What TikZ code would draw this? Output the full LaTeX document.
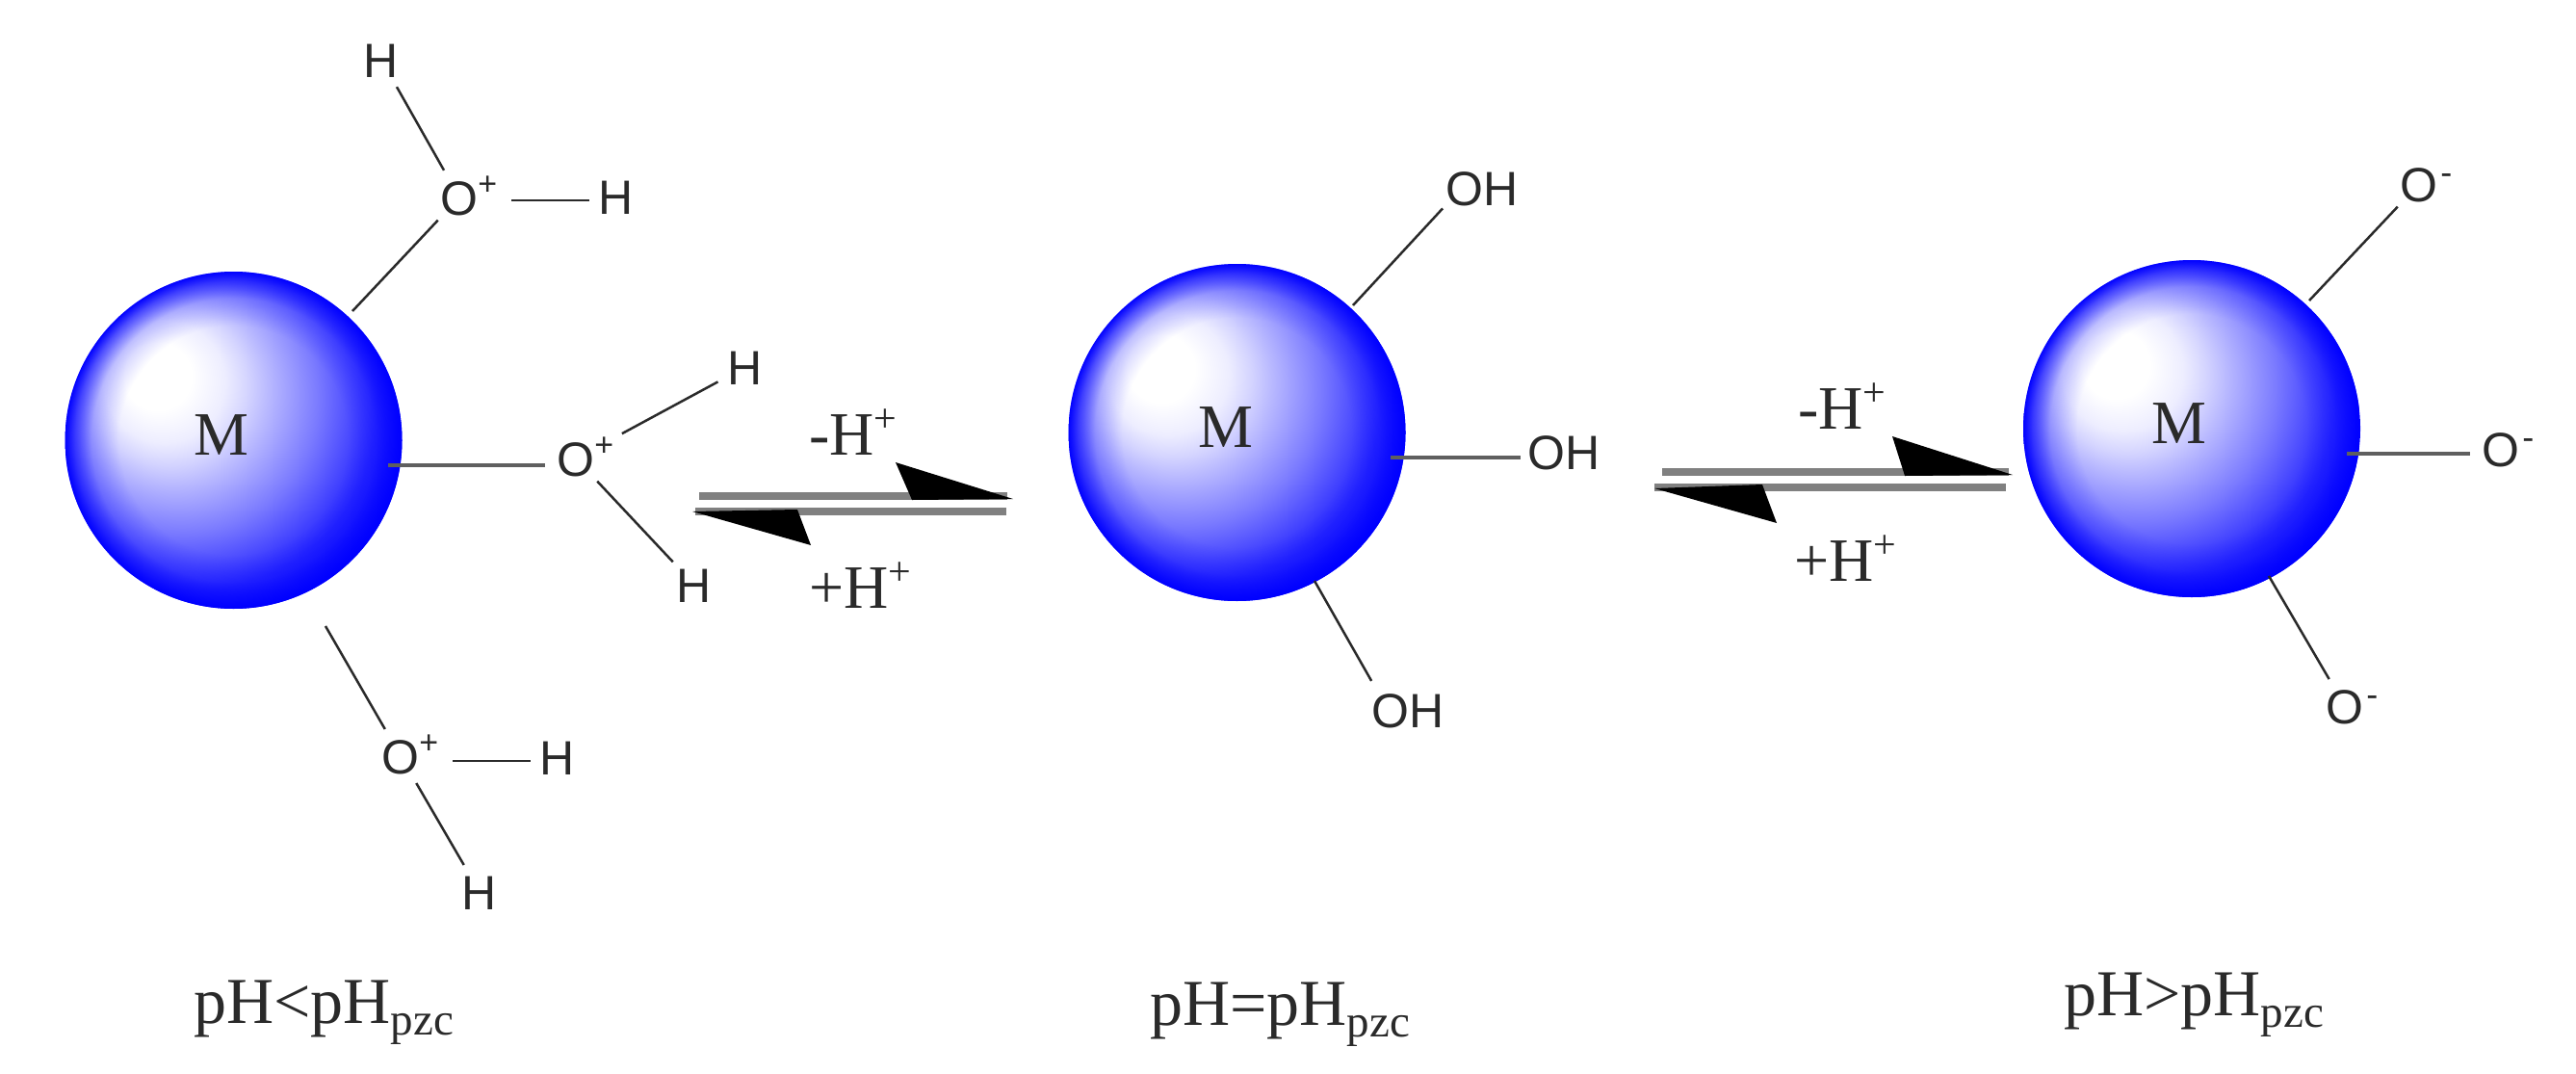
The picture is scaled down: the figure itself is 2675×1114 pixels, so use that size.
\documentclass[tikz,border=0pt]{standalone}
\usepackage{fontspec}
\setmainfont{Liberation Serif}
\newfontfamily\atomfont{Liberation Sans}
\usetikzlibrary{fadings}
\pgfdeclareradialshading{sphshade}{\pgfpoint{-12.5bp}{10.5bp}}{%
  color(0bp)=(white); color(5bp)=(white); color(9bp)=(blue!7!white);
  color(11.7bp)=(blue!17!white); color(14bp)=(blue!27!white);
  color(20bp)=(blue!52!white); color(27bp)=(blue!85!white);
  color(32bp)=(blue); color(50bp)=(blue)}
\pgfdeclareradialshading{rimshade}{\pgfpointorigin}{%
  color(0bp)=(pgftransparent!100); color(17bp)=(pgftransparent!100);
  color(21bp)=(pgftransparent!78); color(23.5bp)=(pgftransparent!35);
  color(25bp)=(pgftransparent!0); color(50bp)=(pgftransparent!0)}
\pgfdeclarefading{rimfade}{\pgfuseshading{rimshade}}
\definecolor{ink}{HTML}{2A2A2A}
\definecolor{rail}{HTML}{808080}
\newcommand{\Oplus}{O\rlap{\raisebox{10.5pt}{\fontsize{17}{17}\selectfont +}}}
\newcommand{\Ominus}{O\rlap{\kern1.5pt\raisebox{9pt}{\fontsize{18}{18}\selectfont -}}}
\newcommand{\pzc}{\raisebox{-6pt}{\fontsize{23.5}{24}\selectfont pzc}}
\newcommand{\Hplus}{H\raisebox{12pt}{\fontsize{21}{21}\selectfont +}}
\tikzset{
  x=0.5pt,y=-0.5pt,
  sphere/.style={circle,minimum size=175pt,inner sep=0pt,shading=sphshade,
    path picture={\fill[blue,path fading=rimfade,fit fading=true]
      (path picture bounding box.south west) rectangle (path picture bounding box.north east);}},
  atom/.style={circle,minimum size=32pt,inner sep=0pt,text=ink,
    font=\atomfont\fontsize{25}{25}\selectfont,text height=18pt,text depth=0pt},
  oh/.style={rectangle,inner sep=1.5pt,text=ink,
    font=\atomfont\fontsize{25}{25}\selectfont,text height=18pt,text depth=0pt},
  metal/.style={inner sep=0pt,text=ink,font=\fontsize{32}{32}\selectfont},
  ion/.style={inner sep=0pt,text=ink,font=\fontsize{32}{32}\selectfont,anchor=base west},
  cond/.style={inner sep=0pt,text=ink,font=\fontsize{34}{34}\selectfont,anchor=base},
  bond/.style={draw=ink,line width=1.25pt},
  bondm/.style={draw=ink!75!white,line width=1.8pt},
  railline/.style={draw=rail,line width=4pt},
  head/.style={fill=black,draw=none}
}
\begin{document}
\begin{tikzpicture}
\useasboundingbox (0,0) rectangle (2675,1114);
% spheres
\node[sphere] (s1) at (242.5,457) {};
\node[sphere] (s2) at (1284.5,449) {};
\node[sphere] (s3) at (2276,445) {};
\node[metal] (m1) at (230,452) {M};
\node[metal] (m2) at (1272.5,444) {M};
\node[metal] (m3) at (2262.5,440) {M};
% bond roots on the spheres
\coordinate (r1a) at (366,323);
\coordinate (r1b) at (403,483);
\coordinate (r1c) at (338,650);
\coordinate (r2a) at (1405,317);
\coordinate (r2b) at (1444,475);
\coordinate (r2c) at (1365,603);
\coordinate (r3a) at (2398,312);
\coordinate (r3b) at (2437,471);
\coordinate (r3c) at (2356,598);
% left group
\node[atom] (O1) at (477,205) {\Oplus};
\node[atom] (H1a) at (396,62) {H};
\node[atom] (H1b) at (640,204) {H};
\node[atom] (O2) at (598,476) {\Oplus};
\node[atom] (H2a) at (774,381) {H};
\node[atom] (H2b) at (721,607) {H};
\node[atom] (O3) at (416,785) {\Oplus};
\node[atom] (H3a) at (579,786) {H};
\node[atom] (H3b) at (498,926) {H};
\draw[bond] (r1a) -- (O1);
\draw[bond] (O1) -- (H1a);
\draw[bond,shorten <=11pt,shorten >=-2pt] (O1.east |- H1b.center) ++(0,4) -- (H1b.west |- 620,208);
\draw[bondm] (r1b) -- (O2.west |- r1b);
\draw[bond,shorten <=11pt] (O2) -- (H2a);
\draw[bond] (O2) -- (H2b);
\draw[bond] (r1c) -- (O3);
\draw[bond] (O3) -- (H3b);
\draw[bond,shorten <=11pt,shorten >=-2pt] (O3.east |- H3a.center) ++(0,4) -- (H3a.west |- 559,790);
% middle group
\node[oh] (A1) at (1539,195) {OH};
\node[oh] (A2) at (1624,469) {OH};
\node[oh] (A3) at (1462,737) {OH};
\draw[bond] (r2a) -- (A1.south west);
\draw[bondm,shorten >=2pt] (r2b) -- (A2.west |- r2b);
\draw[bond,shorten >=5pt] (r2c) -- ([xshift=4pt]A3.north west);
% right group
\node[atom] (B1) at (2512,191) {\Ominus};
\node[atom] (B2) at (2597,466) {\Ominus};
\node[atom] (B3) at (2435,733) {\Ominus};
\draw[bond] (r3a) -- (B1);
\draw[bondm] (r3b) -- (B2.west |- r3b);
\draw[bond] (r3c) -- (B3);
% equilibrium arrows
\coordinate (e1a) at (726,515); \coordinate (e1b) at (1046,515);
\coordinate (e1c) at (722,531); \coordinate (e1d) at (1045,531);
\draw[railline] (e1a) -- (e1b);
\draw[railline] (e1c) -- (e1d);
\fill[head] (930,480) -- (1052,518) -- (947,519) -- cycle;
\fill[head] (719,531) -- (828,529) -- (842,566) -- cycle;
\coordinate (e2a) at (1726,490); \coordinate (e2b) at (2086,490);
\coordinate (e2c) at (1718,506); \coordinate (e2d) at (2083,506);
\draw[railline] (e2a) -- (e2b);
\draw[railline] (e2c) -- (e2d);
\fill[head] (1965,453) -- (2090,493) -- (1978,494) -- cycle;
\fill[head] (1718,507) -- (1830,503) -- (1845,543) -- cycle;
% ion labels
\node[ion] (t1) at (840,472) {-\Hplus};
\node[ion] (t2) at (840,631) {+\Hplus};
\node[ion] (t3) at (1867,445) {-\Hplus};
\node[ion] (t4) at (1863,603) {+\Hplus};
% conditions
\node[cond] (c1) at (336,1062) {pH<pH\pzc};
\node[cond] (c2) at (1329,1064) {pH=pH\pzc};
\node[cond] (c3) at (2278,1054) {pH>pH\pzc};
\end{tikzpicture}
\end{document}
